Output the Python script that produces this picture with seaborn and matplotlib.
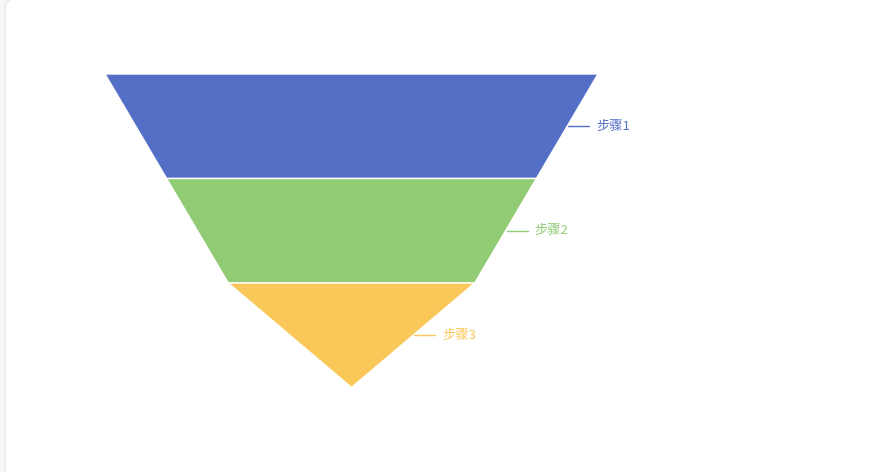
import numpy as np
import matplotlib
matplotlib.use("Agg")
import matplotlib.pyplot as plt
from matplotlib.patches import FancyBboxPatch
import seaborn as sns

sns.set_theme(style="white")
plt.rcParams['font.family'] = ['Noto Sans CJK SC', 'DejaVu Sans']

steps = ["步骤1", "步骤2", "步骤3"]
values = [100, 75, 50]
colors = ["#5470c6", "#91cc75", "#fac858"]

# funnel layout in pixels (figure is 886x472)
W, H = 886, 472
cx = 351.5
top = 74
full_w = 493
layer_h = 104.5

fig = plt.figure(figsize=(W / 100, H / 100), dpi=100)
fig.patch.set_facecolor("#f7f7f7")
ax = fig.add_axes([0, 0, 1, 1])
ax.set_xlim(0, W)
ax.set_ylim(H, 0)
ax.axis("off")

# white card behind the chart
card = FancyBboxPatch((5, -2), W + 20, H + 20, boxstyle="round,pad=0,rounding_size=12",
                      fc="white", ec="#e8e8e8", lw=1)
ax.add_patch(card)

widths = [v / max(values) * full_w for v in values] + [0]
for i, (name, c) in enumerate(zip(steps, colors)):
    y0 = top + i * layer_h
    y1 = y0 + layer_h
    w0, w1 = widths[i], widths[i + 1]
    xs = [cx - w0 / 2, cx + w0 / 2, cx + w1 / 2, cx - w1 / 2]
    ys = [y0, y0, y1, y1]
    ax.fill(xs, ys, color=c, ec="white", lw=1, zorder=2)
    # label line from middle of right edge
    mx = cx + (w0 + w1) / 4
    my = (y0 + y1) / 2
    ax.plot([mx + 1, mx + 22], [my, my], color=c, lw=1, zorder=3)
    ax.text(mx + 29, my, name, color=c, fontsize=9.5, va="center", ha="left")

plt.savefig("out.png", dpi=100)
